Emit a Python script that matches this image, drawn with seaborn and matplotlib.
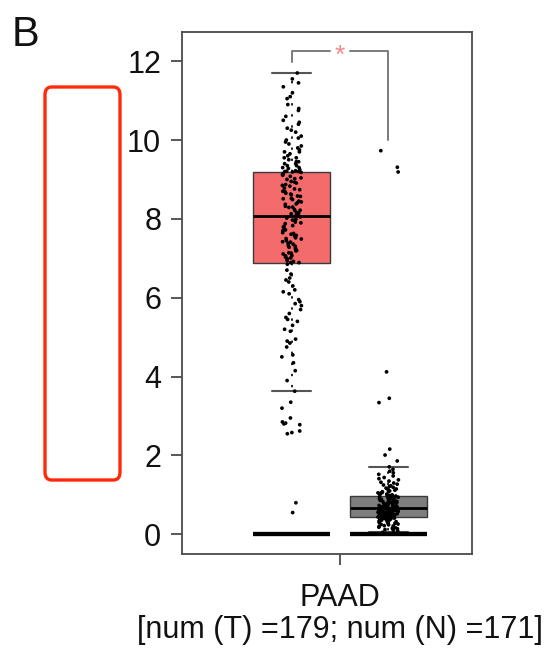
import numpy as np
import pandas as pd
import matplotlib
matplotlib.use("Agg")
import matplotlib.pyplot as plt
from matplotlib.patches import FancyBboxPatch
import seaborn as sns

# ---------------- data ----------------
cancer = "PAAD"
groups = ["Tumor", "Normal"]

tumor_values = [
    # low outliers
    0.55, 0.80, 2.55, 2.58, 2.62, 2.78, 2.80, 2.82, 2.85, 2.95, 3.20, 3.35,
    # below Q1
    3.63, 3.90, 4.15, 4.35, 4.50, 4.55, 4.75, 4.85, 4.90, 4.95, 5.15, 5.20,
    5.30, 5.40, 5.45, 5.50, 5.60, 5.70, 5.80, 5.85, 5.90, 5.95, 6.10, 6.15,
    6.20, 6.30, 6.40, 6.45, 6.50, 6.60, 6.70, 6.85,
    # Q1
    6.89, 6.89,
    # Q1 .. median
    6.92, 6.94, 6.99, 7.01, 7.03, 7.06, 7.07, 7.11, 7.13, 7.14, 7.19, 7.20,
    7.22, 7.26, 7.28, 7.31, 7.32, 7.36, 7.38, 7.41, 7.42, 7.45, 7.49, 7.50,
    7.52, 7.56, 7.58, 7.61, 7.63, 7.65, 7.70, 7.72, 7.74, 7.79, 7.81, 7.83,
    7.88, 7.90, 7.92, 7.97, 7.99, 8.02, 8.05,
    # median
    8.08,
    # median .. Q3
    8.10, 8.13, 8.15, 8.16, 8.21, 8.22, 8.24, 8.29, 8.30, 8.32, 8.37, 8.38,
    8.41, 8.43, 8.45, 8.49, 8.51, 8.52, 8.57, 8.58, 8.61, 8.63, 8.65, 8.69,
    8.70, 8.74, 8.76, 8.78, 8.83, 8.85, 8.87, 8.91, 8.93, 8.95, 9.00, 9.02,
    9.04, 9.08, 9.11, 9.12, 9.15, 9.18, 9.19,
    # Q3
    9.20, 9.20,
    # above Q3
    9.21, 9.22, 9.25, 9.28, 9.30, 9.30, 9.35, 9.35, 9.40, 9.40, 9.45, 9.45,
    9.50, 9.55, 9.55, 9.60, 9.65, 9.70, 9.70, 9.75, 9.80, 9.85, 9.90, 9.95,
    10.00, 10.05, 10.10, 10.20, 10.25, 10.30, 10.40, 10.45, 10.50, 10.60,
    10.75, 10.80, 10.90, 11.05, 11.10, 11.20, 11.35, 11.45, 11.55, 11.70,
]

normal_values = [
    # below Q1
    0.05, 0.08, 0.10, 0.12, 0.14, 0.15, 0.17, 0.18, 0.20, 0.21, 0.22, 0.24,
    0.25, 0.26, 0.27, 0.28, 0.29, 0.30, 0.31, 0.32, 0.33, 0.33, 0.34, 0.35,
    0.35, 0.36, 0.37, 0.37, 0.38, 0.39, 0.39, 0.40, 0.40, 0.41, 0.41, 0.42,
    0.42, 0.43, 0.43, 0.44, 0.44, 0.445,
    # Q1
    0.45, 0.45,
    # Q1 .. median
    0.455, 0.46, 0.46, 0.47, 0.47, 0.48, 0.48, 0.49, 0.49, 0.50, 0.50, 0.51,
    0.51, 0.52, 0.52, 0.53, 0.53, 0.54, 0.54, 0.55, 0.55, 0.56, 0.56, 0.57,
    0.57, 0.58, 0.58, 0.59, 0.59, 0.60, 0.60, 0.61, 0.61, 0.62, 0.62, 0.63,
    0.63, 0.64, 0.64, 0.65, 0.655,
    # median
    0.66,
    # median .. Q3
    0.67, 0.67, 0.68, 0.69, 0.70, 0.70, 0.71, 0.72, 0.73, 0.73, 0.74, 0.75,
    0.76, 0.76, 0.77, 0.78, 0.79, 0.80, 0.80, 0.81, 0.82, 0.83, 0.84, 0.84,
    0.85, 0.86, 0.87, 0.88, 0.88, 0.89, 0.90, 0.91, 0.92, 0.92, 0.93, 0.94,
    0.95, 0.95, 0.96, 0.96, 0.965,
    # Q3
    0.97, 0.97,
    # above Q3 (inside whisker)
    0.98, 0.99, 1.00, 1.01, 1.02, 1.03, 1.04, 1.05, 1.06, 1.08, 1.09, 1.10,
    1.12, 1.14, 1.15, 1.17, 1.19, 1.21, 1.23, 1.25, 1.27, 1.30, 1.32, 1.35,
    1.38, 1.41, 1.44, 1.48, 1.52, 1.56, 1.60, 1.65, 1.71,
    # high outliers
    1.86, 2.01, 2.16, 3.34, 3.45, 4.12, 9.19, 9.31, 9.73,
]

# flat baseline bars at zero drawn for each group
baseline_tumor = [0.0, 0.0]
baseline_normal = [0.0, 0.0]

y_ticks = [0, 2, 4, 6, 8, 10, 12]
significance = "*"
panel_label = "B"

# ---------------- tables ----------------
df = pd.DataFrame({
    "cancer": cancer,
    "group": ["Tumor"] * len(tumor_values) + ["Normal"] * len(normal_values),
    "value": tumor_values + normal_values,
})
df0 = pd.DataFrame({
    "cancer": cancer,
    "group": ["Tumor"] * len(baseline_tumor) + ["Normal"] * len(baseline_normal),
    "value": baseline_tumor + baseline_normal,
})

# ---------------- style ----------------
sns.set_theme(style="ticks")
plt.rcParams["font.family"] = ["Liberation Sans", "DejaVu Sans"]

W, H = 552, 650
fig = plt.figure(figsize=(W / 100, H / 100), dpi=100)
ax = fig.add_axes([182 / W, 1 - 554 / H, (472 - 182) / W, (554 - 32) / H])

box_colors = {"Tumor": "#F36B6B", "Normal": "#7E7E7E"}
edge_col = "#3a3a3a"
np.random.seed(3)

sns.boxplot(
    data=df, x="cancer", y="value", hue="group", hue_order=groups,
    palette=box_colors, saturation=1, width=0.8, gap=0.2,
    showfliers=False, linewidth=1.0, linecolor=edge_col,
    medianprops={"color": "black", "linewidth": 2.0},
    whiskerprops={"color": "#222222", "linewidth": 1.4,
                  "linestyle": (0, (1.2, 4.5))},
    capprops={"color": "#555555", "linewidth": 1.5},
    legend=False, ax=ax, zorder=2,
)
sns.boxplot(
    data=df0, x="cancer", y="value", hue="group", hue_order=groups,
    palette={"Tumor": "black", "Normal": "black"}, saturation=1,
    width=0.8, gap=0.2, showfliers=False, showcaps=False,
    linewidth=3.0, linecolor="black", legend=False, ax=ax, zorder=2,
)
sns.stripplot(
    data=df, x="cancer", y="value", hue="group", hue_order=groups,
    palette={"Tumor": "black", "Normal": "black"}, dodge=True, jitter=0.085,
    size=2.7, linewidth=0, legend=False, ax=ax, zorder=3,
)

# ---------------- axes ----------------
ax.set_xlim(-0.654, 0.547)
ax.set_ylim(-0.5, 12.74)
ax.set_yticks(y_ticks)
ax.set_yticklabels([str(t) for t in y_ticks])
ax.set_xticks([0])
ax.set_xticklabels([f"{cancer}\n[num (T) ={len(tumor_values)}; num (N) ={len(normal_values)}]"],
                   linespacing=1.1)
ax.set_xlabel("")
ax.set_ylabel("")
for s in ax.spines.values():
    s.set_visible(True)
    s.set_color("#4a4a4a")
    s.set_linewidth(1.3)
ax.tick_params(axis="both", labelsize=22, length=8, width=1.3, color="#4a4a4a",
               labelcolor="#111111")
ax.tick_params(axis="y", pad=7)
ax.tick_params(axis="x", pad=13)

# ---------------- significance bracket ----------------
off = 0.2  # dodge offset of the two groups
top_y = max(tumor_values) + 0.55
left_y = max(tumor_values) + 0.28
right_y = max(normal_values) + 0.27
gap_x = 0.04
br = dict(color="#7a7a7a", linewidth=1.4, zorder=4)
ax.plot([-off, -off, -gap_x], [left_y, top_y, top_y], **br)
ax.plot([gap_x, off, off], [top_y, top_y, right_y], **br)
ax.text(0, top_y - 0.12, significance, color="#F58A8A", fontsize=19,
        ha="center", va="center", zorder=5)

# ---------------- panel label and highlight box ----------------
fig.text(12 / W, 1 - 46 / H, panel_label, fontsize=30, ha="left", va="baseline",
         color="#111111")
rect = FancyBboxPatch((45 / W, 1 - 480 / H), 75 / W, 393 / H,
                      boxstyle="round,pad=0,rounding_size=0.012",
                      transform=fig.transFigure, fill=False,
                      edgecolor="#FF2A0A", linewidth=2.4)
fig.add_artist(rect)

fig.savefig("out.png", dpi=100)
